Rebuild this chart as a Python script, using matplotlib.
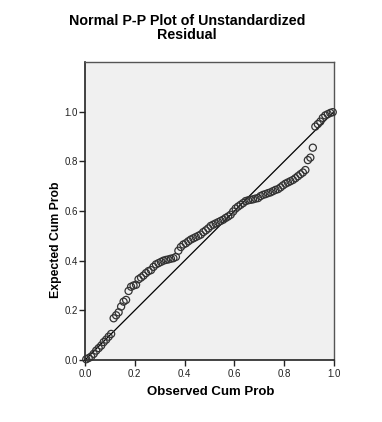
import matplotlib
matplotlib.use("Agg")
import matplotlib.pyplot as plt

title = "Normal P-P Plot of Unstandardized\nResidual"
x_label = "Observed Cum Prob"
y_label = "Expected Cum Prob"
x_ticks = [0.0, 0.2, 0.4, 0.6, 0.8, 1.0]
y_ticks = [0.0, 0.2, 0.4, 0.6, 0.8, 1.0]

observed = [0.005, 0.015, 0.025, 0.035, 0.045, 0.055, 0.065, 0.075, 0.085, 0.095,
            0.105, 0.115, 0.125, 0.135, 0.145, 0.155, 0.165, 0.175, 0.185, 0.195,
            0.205, 0.215, 0.225, 0.235, 0.245, 0.255, 0.265, 0.275, 0.285, 0.295,
            0.305, 0.315, 0.325, 0.335, 0.345, 0.355, 0.365, 0.375, 0.385, 0.395,
            0.405, 0.415, 0.425, 0.435, 0.445, 0.455, 0.465, 0.475, 0.485, 0.495,
            0.505, 0.515, 0.525, 0.535, 0.545, 0.555, 0.565, 0.575, 0.585, 0.595,
            0.605, 0.615, 0.625, 0.635, 0.645, 0.655, 0.665, 0.675, 0.685, 0.695,
            0.705, 0.715, 0.725, 0.735, 0.745, 0.755, 0.765, 0.775, 0.785, 0.795,
            0.805, 0.815, 0.825, 0.835, 0.845, 0.855, 0.865, 0.875, 0.885, 0.895,
            0.905, 0.915, 0.925, 0.935, 0.945, 0.955, 0.965, 0.975, 0.985, 0.995]
expected = [0.003, 0.008, 0.014, 0.025, 0.038, 0.048, 0.058, 0.072, 0.082, 0.094,
            0.105, 0.168, 0.180, 0.192, 0.215, 0.235, 0.242, 0.278, 0.295, 0.300,
            0.303, 0.325, 0.332, 0.340, 0.350, 0.358, 0.362, 0.375, 0.385, 0.390,
            0.395, 0.400, 0.403, 0.405, 0.408, 0.410, 0.415, 0.440, 0.455, 0.465,
            0.470, 0.478, 0.485, 0.490, 0.495, 0.500, 0.505, 0.515, 0.522, 0.530,
            0.540, 0.545, 0.550, 0.555, 0.560, 0.565, 0.572, 0.578, 0.585, 0.598,
            0.610, 0.618, 0.625, 0.632, 0.640, 0.643, 0.645, 0.647, 0.650, 0.652,
            0.660, 0.665, 0.668, 0.672, 0.675, 0.680, 0.685, 0.688, 0.695, 0.703,
            0.710, 0.715, 0.720, 0.725, 0.732, 0.740, 0.748, 0.755, 0.765, 0.805,
            0.815, 0.855, 0.940, 0.950, 0.960, 0.975, 0.985, 0.990, 0.995, 0.998]

plt.rcParams['font.family'] = ['Liberation Sans', 'DejaVu Sans']

fig = plt.figure(figsize=(3.82, 4.22), dpi=100)
ax = fig.add_axes([85/382, 1-360/422, (334-85)/382, (360-62)/422])
ax.set_facecolor('#F0F0F0')

ax.plot([0, 1], [0, 1], color='black', lw=0.9, zorder=2)
ax.scatter(observed, expected, s=26, facecolors='none', edgecolors='#333333',
           linewidths=0.9, zorder=3, clip_on=False)

ax.set_xlim(0, 1.0)
ax.set_ylim(0, 1.2)
ax.set_xticks(x_ticks)
ax.set_yticks(y_ticks)
ax.set_xticklabels([f"{t:.1f}" for t in x_ticks])
ax.set_yticklabels([f"{t:.1f}" for t in y_ticks])
ax.tick_params(direction='out', length=4, width=1.0, labelsize=7, colors='#222222')
ax.tick_params(axis='y', pad=1)
ax.tick_params(axis='x', pad=2.5)

for side in ['left', 'bottom']:
    ax.spines[side].set_color('#222222')
    ax.spines[side].set_linewidth(1.2)
for side in ['top', 'right']:
    ax.spines[side].set_color('#555555')
    ax.spines[side].set_linewidth(1.0)

fig.text(187/382, 1-28/422, title, ha='center', va='center', fontsize=10.3,
         fontweight='bold', linespacing=1.05)
ax.set_xlabel(x_label, fontsize=9.5, fontweight='bold')
ax.xaxis.set_label_coords((211-85)/249, (360-392)/298)
ax.xaxis.label.set_va('center')
ax.set_ylabel(y_label, fontsize=8.8, fontweight='bold')
ax.yaxis.set_label_coords((62-85)/249, (360-240)/298)

fig.savefig('out.png', dpi=100, facecolor='white')
